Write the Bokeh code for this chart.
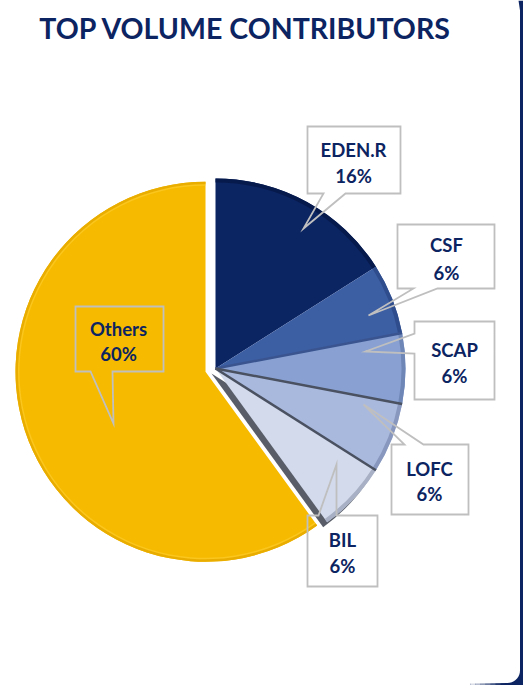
import math
from bokeh.plotting import figure
from bokeh.models import Range1d
from bokeh.core.properties import value
from bokeh.embed import file_html
from bokeh.resources import INLINE

# ---------------- data ----------------
labels = ["EDEN.R", "CSF", "SCAP", "LOFC", "BIL", "Others"]
values = [16, 6, 6, 6, 6, 60]
colors = ["#0b2462", "#3c5ea3", "#88a1d2", "#a9b9de", "#d2daeb", "#f6bb00"]
rim_colors = ["#071a4c", "#2f4d8c", "#6e86b6", "#8797bd", "#a7b0c4", "#e9ad00"]
title_text = "TOP VOLUME CONTRIBUTORS"

# ---------------- layout (screen px) ----------------
W, H = 523, 685
CX, CY, R = 215, 368, 190
EXPLODE = 10.5
explode_flags = [0, 0, 0, 0, 0, 1]

# callout boxes: (x0, y0, x1, y1), edge, base a, base b, tip
callouts = [
    ((307, 126, 400, 193), "bottom", 323, 345, (303, 228)),
    ((397, 224, 494, 288), "bottom", 413, 437, (368, 315)),
    ((414, 321, 494, 399), "left", 333, 353, (365, 351)),
    ((391, 444, 468, 514), "top", 404, 423, (363, 404)),
    ((307, 515, 377, 586), "top", 318, 336, (336, 464)),
    ((75, 306, 163, 371), "bottom", 90, 112, (113, 423)),
]
name_pos = [(353, 149), (446, 244), (454, 349), (429, 468), (342, 539), (118, 328)]
pct_pos = [(353, 175), (446, 272), (454, 375), (429, 493), (342, 565), (118, 353)]

NAVY = "#0c2461"
FONT = "Lato"


def Y(y):
    return H - y


p = figure(width=W, height=H, x_range=Range1d(0, W), y_range=Range1d(0, H),
           output_backend="svg", toolbar_location=None, min_border=0,
           background_fill_color="white", border_fill_color="white")
p.axis.visible = False
p.grid.visible = False
p.outline_line_color = None

# ---------------- pie geometry from data ----------------
total = float(sum(values))
cum = [0.0]
for v in values:
    cum.append(cum[-1] + v / total)
starts, ends, cxs, cys = [], [], [], []
for i in range(len(values)):
    a_end = math.radians(90 - 360 * cum[i])
    a_start = math.radians(90 - 360 * cum[i + 1])
    starts.append(a_start)
    ends.append(a_end)
    mid = (a_start + a_end) / 2
    d = EXPLODE * explode_flags[i]
    cxs.append(CX + d * math.cos(mid))
    cys.append(Y(CY) + d * math.sin(mid))

# Others slice (exploded) with rim
oi = 5
p.wedge(x=cxs[oi], y=cys[oi], radius=R, start_angle=starts[oi], end_angle=ends[oi],
        fill_color=colors[oi], line_color=None)
p.annular_wedge(x=cxs[oi], y=cys[oi], inner_radius=R - 2.5, outer_radius=R,
                start_angle=starts[oi], end_angle=ends[oi],
                fill_color=rim_colors[oi], line_color=None)
p.annular_wedge(x=cxs[oi], y=cys[oi], inner_radius=R - 4, outer_radius=R - 2.5,
                start_angle=starts[oi], end_angle=ends[oi],
                fill_color="#ffd23a", line_color=None, fill_alpha=0.5)

# shadow of BIL slice
bi = 4
p.wedge(x=cxs[bi] - 4, y=cys[bi] - 5, radius=R, start_angle=starts[bi], end_angle=ends[bi],
        fill_color="#585d68", line_color=None)

# blue slices
for i in range(5):
    p.wedge(x=cxs[i], y=cys[i], radius=R, start_angle=starts[i], end_angle=ends[i],
            fill_color=colors[i], line_color=None)
    p.annular_wedge(x=cxs[i], y=cys[i], inner_radius=R - 4, outer_radius=R,
                    start_angle=starts[i], end_angle=ends[i],
                    fill_color=rim_colors[i], line_color=None)

# separators between lighter slices
sep_idx = [2, 3, 4]
sep_cols = ["#3a5490", "#4a5160", "#4a5160"]
for k, si in enumerate(sep_idx):
    a = math.radians(90 - 360 * cum[si])
    p.segment(x0=CX, y0=Y(CY), x1=CX + R * math.cos(a), y1=Y(CY) + R * math.sin(a),
              line_color=sep_cols[k], line_width=2.5)

# ---------------- callouts ----------------
def callout_poly(box, edge, a, b, tip):
    x0, y0, x1, y1 = box
    tx, ty = tip
    if edge == "bottom":
        pts = [(x0, y0), (x1, y0), (x1, y1), (b, y1), (tx, ty), (a, y1), (x0, y1)]
    elif edge == "top":
        pts = [(x0, y0), (a, y0), (tx, ty), (b, y0), (x1, y0), (x1, y1), (x0, y1)]
    else:  # left
        pts = [(x0, y0), (x1, y0), (x1, y1), (x0, y1), (x0, b), (tx, ty), (x0, a)]
    return [q[0] for q in pts], [Y(q[1]) for q in pts]


xs, ys = [], []
for c in callouts:
    px, py = callout_poly(*c)
    xs.append(px)
    ys.append(py)
p.patches(xs=xs, ys=ys, fill_alpha=0, line_color="#bfbfbf", line_width=1.8,
          line_join="miter")

p.text(x=[q[0] for q in name_pos], y=[Y(q[1]) for q in name_pos], text=labels,
       text_font=value(FONT), text_font_style="bold", text_font_size="18.5px",
       text_color=NAVY, text_align="center", text_baseline="middle")
p.text(x=[q[0] for q in pct_pos], y=[Y(q[1]) for q in pct_pos],
       text=[f"{v}%" for v in values],
       text_font=value(FONT), text_font_style="bold", text_font_size="18.5px",
       text_color=NAVY, text_align="center", text_baseline="middle")

# ---------------- title ----------------
p.text(x=[245], y=[Y(27)], text=[title_text], text_font=value(FONT),
       text_font_style="bold", text_font_size="28.5px", text_color=NAVY,
       text_align="center", text_baseline="middle")

# ---------------- frame (right / bottom navy edge) ----------------
fx = [523, 518, 519.5, 519.5]
fy = [0, 0, 10, 670]
for t in range(0, 91, 10):
    ang = math.radians(t)
    fx.append(507 + 12.5 * math.cos(ang))
    fy.append(670 + 12.5 * math.sin(ang))
fx += [470, 470, 523]
fy += [683, 685, 685]
p.patch(x=fx, y=[Y(v) for v in fy], fill_color="#0c2461", line_color=None)
# fade on left part of the bottom edge
for k in range(6):
    p.quad(left=470 + k * 5, right=475 + k * 5, bottom=0, top=Y(682.5),
           fill_color="white", fill_alpha=0.85 - k * 0.15, line_color=None)

open("out.html", "w").write(file_html(p, INLINE))
